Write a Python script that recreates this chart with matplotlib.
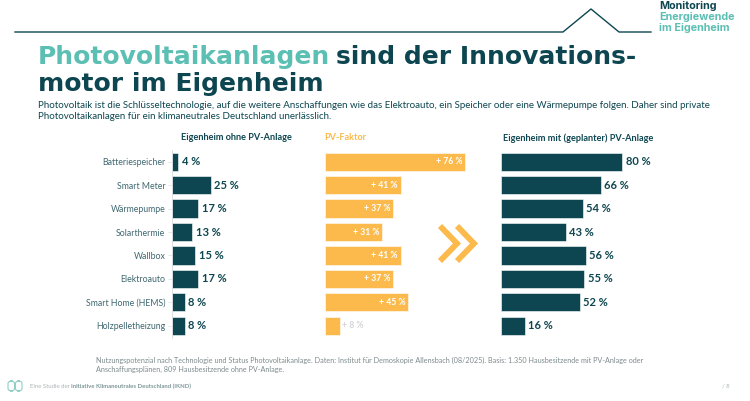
import numpy as np
import matplotlib
matplotlib.use('Agg')
import matplotlib.pyplot as plt
from matplotlib.lines import Line2D
from matplotlib.patches import FancyBboxPatch

# data
categories = ['Batteriespeicher', 'Smart Meter', 'Wärmepumpe', 'Solarthermie',
              'Wallbox', 'Elektroauto', 'Smart Home (HEMS)', 'Holzpelletheizung']
ohne_pv = [4, 25, 17, 13, 15, 17, 8, 8]
pv_faktor = [76, 41, 37, 31, 41, 37, 45, 8]
mit_pv = [80, 66, 54, 43, 56, 55, 52, 16]

DARK = '#0D4650'
TEAL = '#5CBFB3'
ORANGE = '#FBBA4B'
GREY = '#7E8B8D'
LABEL = '#3F6770'

W, H = 750, 401
plt.rcParams['font.family'] = ['Lato', 'DejaVu Sans']

fig = plt.figure(figsize=(7.5, 4.01), dpi=100)

def fx(x):
    return x / W

def fy(y):
    return 1 - y / H

def ftext(x, y, s, **kw):
    return fig.text(fx(x), fy(y), s, **kw)

# header line with roof
roof_x = [15, 563, 591, 619, 651]
roof_y = [32, 32, 9, 32, 32]
fig.add_artist(Line2D([fx(v) for v in roof_x], [fy(v) for v in roof_y],
                      color=DARK, lw=1.0, transform=fig.transFigure))

logo_font = ['Inter', 'DejaVu Sans']
ftext(659, 6, 'Monitoring', color=DARK, fontsize=7.8, fontweight='bold',
      family=logo_font, va='center')
ftext(659, 17, 'Energiewende', color=TEAL, fontsize=7.8, fontweight='bold',
      family=logo_font, va='center')
ftext(659, 28, 'im Eigenheim', color=TEAL, fontsize=7.8, fontweight='bold',
      family=logo_font, va='center')

# title
tfont = dict(fontsize=18, fontweight='bold', family=['DejaVu Sans'])
t1 = ftext(38, 64, 'Photovoltaikanlagen', color=TEAL, va='baseline', **tfont)
fig.canvas.draw()
bb = t1.get_window_extent()
fig.text(bb.x1 / W + 0.008, fy(64), 'sind der Innovations-', color=DARK,
         va='baseline', **tfont)
ftext(38, 91, 'motor im Eigenheim', color=DARK, va='baseline', **tfont)

ftext(38, 106, 'Photovoltaik ist die Schlüsseltechnologie, auf die weitere Anschaffungen wie das '
      'Elektroauto, ein Speicher oder eine Wärmepumpe folgen. Daher sind private',
      color=DARK, fontsize=7.0, va='center')
ftext(38, 117, 'Photovoltaikanlagen für ein klimaneutrales Deutschland unerlässlich.',
      color=DARK, fontsize=7.0, va='center')

# panels
top, bottom = 150.0, 337.5
y = np.arange(len(categories))

def panel(x0, px_per_100):
    ax = fig.add_axes([fx(x0), fy(bottom), px_per_100 / W, (bottom - top) / H])
    ax.set_xlim(0, 100)
    ax.set_ylim(len(categories) - 0.5, -0.5)
    ax.patch.set_alpha(0)
    for s in ax.spines.values():
        s.set_visible(False)
    ax.set_xticks([])
    ax.set_yticks([])
    return ax

ax1 = panel(172.3, 153)
ax1.barh(y, ohne_pv, height=0.78, color=DARK, edgecolor='white', lw=0.4)
ax1.spines['left'].set_visible(True)
ax1.spines['left'].set_color('#D8DCDD')
ax1.spines['left'].set_linewidth(0.6)
ax1.set_yticks(y)
ax1.set_yticklabels(categories, fontsize=6.3, color=LABEL)
ax1.tick_params(axis='y', length=3, width=0.5, color='#D8DCDD', pad=2)
for i, v in enumerate(ohne_pv):
    ax1.text(v + 2.2, i, f'{v} %', va='center', ha='left', fontsize=8,
             fontweight='bold', color=DARK)

ax2 = panel(324.7, 185)
ax2.barh(y, pv_faktor, height=0.78, color=ORANGE, edgecolor='white', lw=0.4)
for i, v in enumerate(pv_faktor):
    if v > 20:
        ax2.text(v - 1.5, i, f'+ {v} %', va='center', ha='right', fontsize=6.2,
                 fontweight='bold', color='white')
    else:
        ax2.text(v + 1.5, i, f'+ {v} %', va='center', ha='left', fontsize=6.2,
                 fontweight='bold', color='#D5D5D5')

ax3 = panel(500.7, 152)
ax3.barh(y, mit_pv, height=0.78, color=DARK, edgecolor='white', lw=0.4)
for i, v in enumerate(mit_pv):
    ax3.text(v + 2.2, i, f'{v} %', va='center', ha='left', fontsize=8,
             fontweight='bold', color=DARK)

ftext(180.7, 138, 'Eigenheim ohne PV-Anlage', color=DARK, fontsize=6.6,
      fontweight='bold', va='center')
ftext(324.7, 138, 'PV-Faktor', color=ORANGE, fontsize=6.6, fontweight='bold', va='center')
ftext(502.7, 138, 'Eigenheim mit (geplanter) PV-Anlage', color=DARK, fontsize=6.6,
      fontweight='bold', va='center')

# chevrons
for dx in (0, 17):
    xs = [440 + dx, 457 + dx, 440 + dx]
    ys = [226, 243.5, 261]
    fig.add_artist(Line2D([fx(v) for v in xs], [fy(v) for v in ys], color=ORANGE,
                          lw=4.2, solid_joinstyle='miter', solid_capstyle='butt',
                          transform=fig.transFigure))

# footnote
ftext(96, 360, 'Nutzungspotenzial nach Technologie und Status Photovoltaikanlage. Daten: Institut '
      'für Demoskopie Allensbach (08/2025). Basis: 1.350 Hausbesitzende mit PV-Anlage oder',
      color=GREY, fontsize=5.2, va='center')
ftext(96, 369, 'Anschaffungsplänen, 809 Hausbesitzende ohne PV-Anlage.',
      color=GREY, fontsize=5.2, va='center')

# bottom bar
for x0 in (8, 15.5):
    fig.add_artist(FancyBboxPatch((fx(x0), fy(391)), fx(6.5), 10 / H,
                                  boxstyle='round,pad=0,rounding_size=0.006',
                                  fill=False, ec='#8FCFC6', lw=0.8,
                                  transform=fig.transFigure))
t = ftext(30, 386, 'Eine Studie der ', color='#A9B4B5', fontsize=4.3, va='center')
fig.canvas.draw()
bb = t.get_window_extent()
fig.text(bb.x1 / W, fy(386), 'Initiative Klimaneutrales Deutschland (IKND)',
         color='#7E9698', fontsize=4.3, fontweight='bold', va='center')
ftext(722, 386, '/ 8', color='#A9B4B5', fontsize=4.3, va='center')

fig.savefig('out.png', dpi=100)
